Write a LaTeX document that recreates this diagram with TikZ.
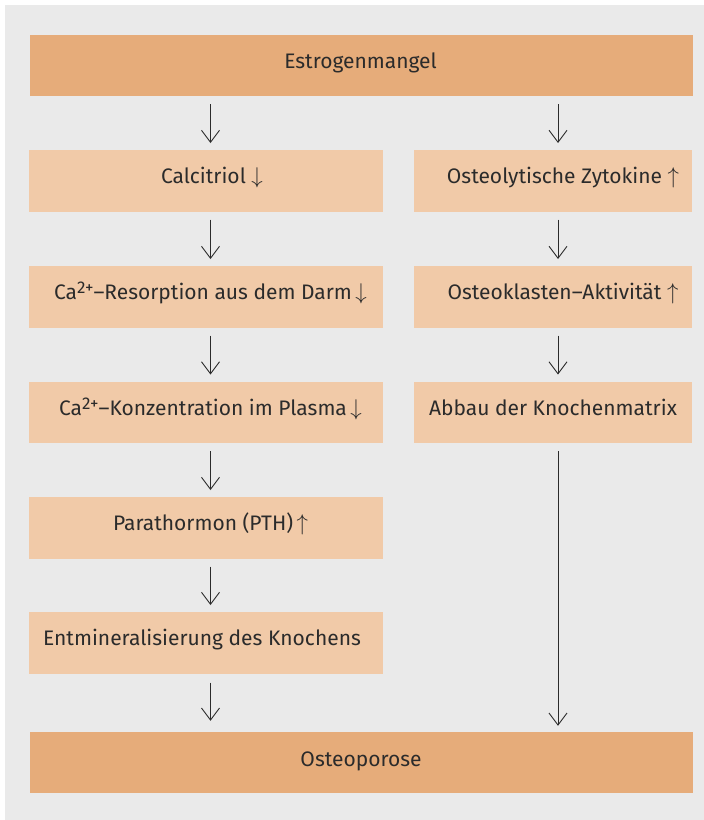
\documentclass[tikz,border=0pt]{standalone}
\usepackage{fontspec}
\setmainfont{Fira Sans}
\usetikzlibrary{arrows.meta}
\definecolor{panel}{HTML}{EAEAEA}
\definecolor{boxdark}{HTML}{E6AC7A}
\definecolor{boxlight}{HTML}{F1CAA8}
\definecolor{ink}{HTML}{2B2B2B}
% thin arrows and the charge superscript used inside the labels
\newcommand\arrdown{\scalebox{1.1}{$\downarrow$}}
\newcommand\arrup{\scalebox{1.1}{$\uparrow$}}
\newcommand\charge{\raisebox{6pt}{\fontsize{17}{17}\selectfont 2+}}
\begin{document}
\begin{tikzpicture}[x=1pt,y=-1pt,
  box/.style={inner sep=0pt, outer sep=0pt, minimum height=61.5pt},
  darkbox/.style={box, fill=boxdark},
  lightbox/.style={box, fill=boxlight},
  lcol/.style={lightbox, minimum width=353.5pt},
  rcol/.style={lightbox, minimum width=278pt},
  wide/.style={darkbox, minimum width=663pt},
  txt/.style={anchor=base, inner sep=0pt, text=ink, font=\fontsize{21}{25}\selectfont},
  flow/.style={draw=ink, line width=0.9pt,
    -{Straight Barb[length=12pt,width=18pt,line width=0.9pt]},
    shorten <=8pt, shorten >=7pt}
]
\useasboundingbox (0,0) rectangle (704,820);
\fill[panel] (5,5) rectangle (704,820);

% column axes for the connectors
\coordinate (lx) at (210.5,0);
\coordinate (rx) at (558,0);

% boxes
\node[wide]  (estro) at (361.5,65.5) {};
\node[lcol]  (calc)  at (206,180.75) {};
\node[lcol]  (resorp) at (206,296.75) {};
\node[lcol]  (konz)  at (206,412.25) {};
\node[lcol]  (pth)   at (206,527.75) {};
\node[lcol]  (entm)  at (206,642.75) {};
\node[rcol]  (zyto)  at (553,180.75) {};
\node[rcol]  (klast) at (553,296.75) {};
\node[rcol]  (abbau) at (553,412.25) {};
\node[wide, minimum width=662.5pt] (osteo) at (361.25,762.5) {};

% labels
\node[txt] (t-estro)  at (360.5,68.5)  {Estrogenmangel};
\node[txt] (t-calc)   at (212,183.75)  {Calcitriol \arrdown};
\node[txt] (t-resorp) at (210.5,299.75) {Ca\charge--Resorption aus dem Darm\,\arrdown};
\node[txt] (t-konz)   at (210.5,415.25) {Ca\charge--Konzentration im Plasma\,\arrdown};
\node[txt] (t-pth)    at (210.5,530.75) {Parathormon (PTH)\,\arrup};
\node[txt] (t-entm)   at (202,645.75)  {Entmineralisierung des Knochens};
\node[txt] (t-zyto)   at (563,183.75)  {Osteolytische Zytokine \arrup};
\node[txt] (t-klast)  at (563,299.75)  {Osteoklasten--Aktivität \arrup};
\node[txt] (t-abbau)  at (553,415.25)  {Abbau der Knochenmatrix};
\node[txt] (t-osteo)  at (361,766)     {Osteoporose};

% connectors, left chain
\draw[flow] (estro.south -| lx) -- (calc.north -| lx);
\draw[flow] (calc.south -| lx) -- (resorp.north -| lx);
\draw[flow] (resorp.south -| lx) -- (konz.north -| lx);
\draw[flow] (konz.south -| lx) -- (pth.north -| lx);
\draw[flow] (pth.south -| lx) -- (entm.north -| lx);
\draw[flow, shorten <=9pt, shorten >=11pt] (entm.south -| lx) -- (osteo.north -| lx);

% connectors, right chain
\draw[flow] (estro.south -| rx) -- (zyto.north -| rx);
\draw[flow] (zyto.south -| rx) -- (klast.north -| rx);
\draw[flow] (klast.south -| rx) -- (abbau.north -| rx);
\draw[flow, shorten >=6pt] (abbau.south -| rx) -- (osteo.north -| rx);
\end{tikzpicture}
\end{document}
